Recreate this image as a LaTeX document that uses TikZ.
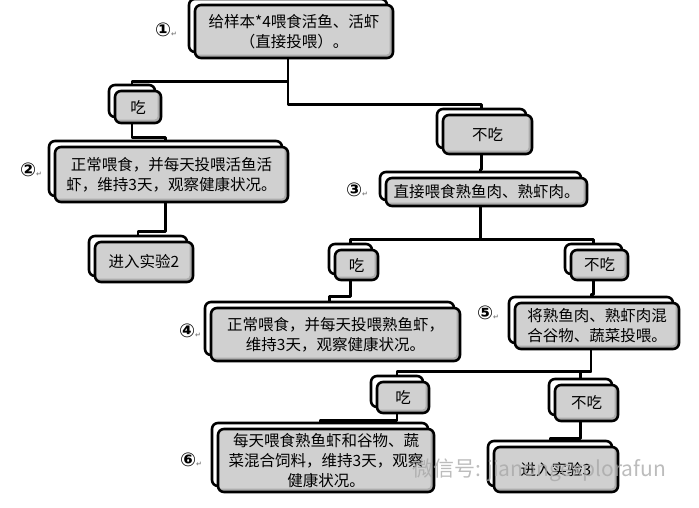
\documentclass[tikz,border=0pt]{standalone}
\usepackage{fontspec}
\setmainfont{Noto Sans CJK SC}
\newfontfamily\symfont{DejaVu Sans}
\usetikzlibrary{shadows}
\definecolor{boxgray}{RGB}{208,208,208}
\definecolor{bevelgray}{RGB}{172,172,172}
\newcommand\parmark{{\fontsize{7}{7}\selectfont\color{gray}↵}}
\begin{document}
\begin{tikzpicture}[x=1pt,y=-1pt,line join=round,
	box/.style={draw,line width=2.6pt,rounded corners=6pt,fill=boxgray,inner sep=1pt,
		align=center,font=\fontsize{15.5}{20}\selectfont,
		path picture={\fill[bevelgray] (path picture bounding box.south west) rectangle (path picture bounding box.north east);
			\fill[boxgray,rounded corners=3pt] (path picture bounding box.north west) rectangle ([shift={(-3.5pt,3.5pt)}]path picture bounding box.south east);},
		general shadow={fill=white,draw=black,line width=2.6pt,shadow xshift=-6pt,shadow yshift=6pt}},
	link/.style={line width=2.4pt},
	numlabel/.style={inner sep=0pt,font=\symfont\fontsize{19}{19}\bfseries\selectfont}]
	\useasboundingbox (0,0) rectangle (699,507);
	% boxes
	\node[box,minimum width=198pt,minimum height=53pt] (feed) at (294,31.5) {给样本*4喂食活鱼、活虾\\（直接投喂）。};
	\node[box,minimum width=46pt,minimum height=32pt] (eatA) at (138,107) {吃};
	\node[box,minimum width=233pt,minimum height=55pt] (careA) at (171.5,174.5) {正常喂食，并每天投喂活鱼活\\虾，维持3天，观察健康状况。};
	\node[box,minimum width=98pt,minimum height=40pt] (expA) at (144,262) {进入实验2};
	\node[box,minimum width=89pt,minimum height=39pt] (noA) at (487.5,134.5) {不吃};
	\node[box,minimum width=201pt,minimum height=28pt] (cooked) at (486.5,192) {直接喂食熟鱼肉、熟虾肉。};
	\node[box,minimum width=43pt,minimum height=30pt] (eatB) at (356.5,265) {吃};
	\node[box,minimum width=57pt,minimum height=30pt] (noB) at (599.5,265) {不吃};
	\node[box,minimum width=249pt,minimum height=53pt] (careB) at (335.5,334.5) {正常喂食，并每天投喂熟鱼虾，\\维持3天，观察健康状况。};
	\node[box,minimum width=164pt,minimum height=46pt] (mix) at (597,326) {将熟鱼肉、熟虾肉混\\合谷物、蔬菜投喂。};
	\node[box,minimum width=52pt,minimum height=31pt] (eatC) at (403,397.5) {吃};
	\node[box,minimum width=63pt,minimum height=36pt] (noC) at (586.5,403) {不吃};
	\node[box,minimum width=216pt,minimum height=63pt] (careC) at (326,460.5) {每天喂食熟鱼虾和谷物、蔬\\菜混合饲料，维持3天，观察\\健康状况。};
	\node[box,minimum width=124pt,minimum height=45pt] (expB) at (556,469.5) {进入实验3};
	% connectors
	\draw[link] ([xshift=-6pt]feed.south) -- ++(0,22) -| ([shift={(-6pt,6pt)}]eatA.north);
	\draw[link] ([xshift=-6pt]feed.south) -- ++(0,45) -| ([shift={(-6pt,6pt)}]noA.north);
	\draw[link] ([xshift=-6pt]eatA.south) -- ++(0,13) -| ([shift={(-6pt,6pt)}]careA.north);
	\draw[link] ([xshift=-6pt]careA.south) -- ++(0,28) -| ([shift={(-6pt,6pt)}]expA.north);
	\draw[link] ([xshift=-6pt]noA.south) -- ++(0,14) -| ([shift={(-6pt,6pt)}]cooked.north);
	\draw[link] ([xshift=-6pt]cooked.south) -- ++(0,32) -| ([shift={(-6pt,6pt)}]eatB.north);
	\draw[link] ([xshift=-6pt]cooked.south) -- ++(0,32) -| ([shift={(-6pt,6pt)}]noB.north);
	\draw[link] ([xshift=-6pt]eatB.south) -- ++(0,15) -| ([shift={(-6pt,6pt)}]careB.north);
	\draw[link] ([xshift=-6pt]noB.south) -- ++(0,13) -| ([shift={(-6pt,6pt)}]mix.north);
	\draw[link] ([xshift=-6pt]mix.south) -- ++(0,21) -| ([shift={(-6pt,6pt)}]eatC.north);
	\draw[link] ([xshift=-6pt]mix.south) -- ++(0,21) -| ([shift={(-6pt,6pt)}]noC.north);
	\draw[link] ([xshift=-6pt]eatC.south) -- ++(0,6) -| ([shift={(-6pt,6pt)}]careC.north);
	\draw[link] ([xshift=-6pt]noC.south) -- ++(0,16) -| ([shift={(-6pt,6pt)}]expB.north);
	% step numbers
	\node[numlabel] (n1) at (166,30) {①\parmark};
	\node[numlabel] (n2) at (31,170) {②\parmark};
	\node[numlabel] (n3) at (357,190) {③\parmark};
	\node[numlabel] (n4) at (190,331) {④\parmark};
	\node[numlabel] (n5) at (488,313) {⑤\parmark};
	\node[numlabel] (n6) at (191,460) {⑥\parmark};
	\node[anchor=west,inner sep=0pt,text=gray!70,opacity=.75,font=\fontsize{21}{21}\selectfont] (wmark) at (412,470) {微信号: jianongexplorafun};
\end{tikzpicture}
\end{document}
